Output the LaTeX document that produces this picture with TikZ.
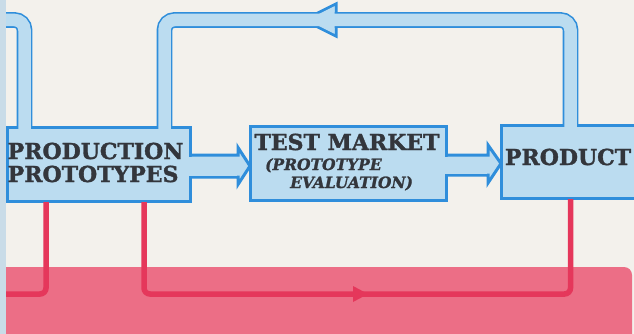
\documentclass[tikz,border=0pt]{standalone}
\usepackage{fontspec}
\setmainfont{DejaVu Serif}[BoldFeatures={FakeBold=1.6},BoldItalicFeatures={FakeBold=1.4}]
\usetikzlibrary{calc}

\definecolor{paper}{HTML}{F3F1EC}
\definecolor{pipeblue}{HTML}{BBDCF0}
\definecolor{edgeblue}{HTML}{2F8EDB}
\definecolor{stripblue}{HTML}{C9DCE8}
\definecolor{pinkband}{HTML}{EC6E86}
\definecolor{redline}{HTML}{E5375B}
\definecolor{inkgrey}{HTML}{33363C}

\tikzset{
  box/.style={rectangle,draw=edgeblue,line width=3pt,fill=pipeblue,inner sep=0pt,outer sep=0pt},
  pipe/.style={draw=edgeblue,line width=1.6pt,double=pipeblue,double distance=12.5pt,rounded corners=10pt},
  redwire/.style={draw=redline,line width=5.5pt,rounded corners=6pt},
  bigtext/.style={font=\fontsize{22}{23}\selectfont\bfseries,text=inkgrey,inner sep=0pt},
  subtext/.style={font=\fontsize{15.5}{18}\selectfont\bfseries\itshape,text=inkgrey,inner sep=0pt}
}

\begin{document}
\begin{tikzpicture}[x=1pt,y=-1pt]
  \fill[paper] (0,0) rectangle (634,334);
  \useasboundingbox (0,0) rectangle (634,334);
  \fill[pinkband] (6,334) -- (6,267) [rounded corners=8pt] -- (632,267) [sharp corners] -- (632,334) -- cycle;

  % boxes, drawn with their borders first
  \node[box,minimum width=183,minimum height=73] (proto) at (98.5,164.5) {};
  \node[box,minimum width=196,minimum height=73] (test) at (348,163.5) {};
  \node[box,minimum width=139,minimum height=72] (product) at (570.5,162) {};
  \coordinate (leftin) at (0,20);
  \coordinate (redout) at (0,294);
  \coordinate (loophead) at (336,20);
  \coordinate (redmark) at (361,294);

  % red lines
  \draw[redwire] ($(proto.south)+(-52.5,1)$) |- (redout);
  \draw[redwire] ($(proto.south)+(45.5,1)$) |- ($(product.south)+(0,96)$) -- ($(product.south)+(0,1)$);
  \fill[redline] (redmark) ++(-8,-8) -- ++(15,8) -- ++(-15,8) -- cycle;

  % fat arrows between the boxes
  \draw[edgeblue,line width=3pt,fill=pipeblue]
    ($(proto.east)+(0,-9.5)$) -- ($(test.west|-proto.east)+(-12,-9.5)$) -- ($(test.west|-proto.east)+(-12,-17)$)
    -- ($(test.west|-proto.east)+(0,1.5)$) -- ($(test.west|-proto.east)+(-12,20)$)
    -- ($(test.west|-proto.east)+(-12,12.5)$) -- ($(proto.east)+(0,12.5)$) -- cycle;
  \draw[edgeblue,line width=3pt,fill=pipeblue]
    ($(test.east)+(0,-8.5)$) -- ($(product.west|-test.east)+(-13,-8.5)$) -- ($(product.west|-test.east)+(-13,-18.5)$)
    -- ($(product.west|-test.east)+(0,0)$) -- ($(product.west|-test.east)+(-13,19.5)$)
    -- ($(product.west|-test.east)+(-13,11.5)$) -- ($(test.east)+(0,11.5)$) -- cycle;

  % feedback pipes
  \draw[edgeblue,line width=3pt,fill=pipeblue] (loophead) ++(0,-16) -- ++(-32,16) -- ++(32,16) -- cycle;
  \draw[pipe] ($(product.north)+(0,1.5)$) |- ($(proto.north east)+(-25.5,-108)$) -- ($(proto.north east)+(-25.5,1.5)$);
  \draw[pipe] (leftin) -| ($(proto.north west)+(17.5,1.5)$);
  \fill[pipeblue] (loophead) ++(-1.5,-13.8) -- ++(-27.6,13.8) -- ++(27.6,13.8) -- cycle;

  % box insides over the joins
  \fill[pipeblue] ($(proto.east)+(-2,-8)$) -- ($(test.west|-proto.east)+(-13.5,-8)$)
    -- ($(test.west|-proto.east)+(-13.5,11)$) -- ($(proto.east)+(-2,11)$) -- cycle;
  \fill[pipeblue] ($(test.east)+(-2,-7)$) -- ($(product.west|-test.east)+(-14.5,-7)$)
    -- ($(product.west|-test.east)+(-14.5,10)$) -- ($(test.east)+(-2,10)$) -- cycle;
  \fill[pipeblue] ($(proto.south west)+(1.5,-1.5)$) rectangle ($(proto.north east)+(-1.5,1.5)$);
  \fill[pipeblue] ($(test.south west)+(1.5,-1.5)$) rectangle ($(test.north east)+(-1.5,1.5)$);
  \fill[pipeblue] ($(product.south west)+(1.5,-1.5)$) rectangle ($(product.north east)+(-1.5,1.5)$);

  \fill[stripblue] (0,0) rectangle (6,334);

  % labels
  \node[bigtext,anchor=base west] (protoa) at ($(proto.north west)+(0.5,31)$) {PRODUCTION};
  \node[bigtext,anchor=base west] (protob) at ($(proto.north west)+(0.5,54)$) {PROTOTYPES};
  \node[bigtext,anchor=base] (testa) at ($(test.north)+(-1,23)$) {TEST MARKET};
  \node[subtext,anchor=base west] (testb) at ($(test.north west)+(15,43)$) {(PROTOTYPE};
  \node[subtext,anchor=base west] (testc) at ($(test.north west)+(40,61)$) {EVALUATION)};
  \node[bigtext,anchor=base] (producta) at ($(product.north)+(-2.5,39)$) {PRODUCT};
\end{tikzpicture}
\end{document}
